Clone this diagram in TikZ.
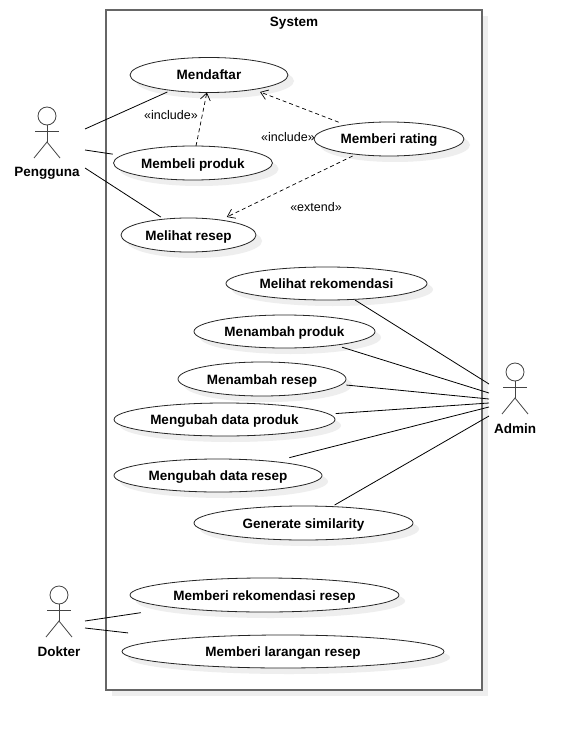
\documentclass[tikz,border=0pt]{standalone}
\usepackage{fontspec}
\setmainfont{Liberation Sans}
\usetikzlibrary{shapes.geometric,shadows,arrows.meta}
\definecolor{shadowgray}{HTML}{EEEEEE}
\definecolor{framegray}{HTML}{666666}
\definecolor{actorgray}{HTML}{444444}
\tikzset{
    softshadow/.style={drop shadow={shadow xshift=6pt,shadow yshift=-6pt,fill=shadowgray,opacity=1}},
    usecase/.style={ellipse,draw=black!85,fill=white,line width=0.8pt,inner sep=0pt,outer sep=0pt,softshadow,text height=10pt,text depth=0pt,font=\fontsize{13.5}{15}\selectfont\bfseries},
    sysframe/.style={rectangle,draw=framegray,fill=white,line width=1.4pt,inner sep=0pt,outer sep=0pt,softshadow},
    actorline/.style={draw=actorgray,line width=0.8pt},
    actorname/.style={font=\fontsize{13.5}{15}\selectfont\bfseries,inner sep=0pt,text height=10pt,text depth=0pt},
    stereotype/.style={font=\fontsize{12.5}{14}\selectfont,inner sep=0pt},
    assoc/.style={draw=black,line width=0.8pt},
    dep/.style={draw=black,line width=0.7pt,dashed,dash pattern=on 4pt off 3pt,-{Straight Barb[length=7pt,width=10pt]}},
}
% #1 name, #2 x, #3 head y, #4 text
\newcommand{\actor}[4]{
    \draw[actorline] (#2,#3) circle (9);
    \draw[actorline] (#2,#3+9) -- (#2,#3+26);
    \draw[actorline] (#2-12,#3+15) -- (#2+12,#3+15);
    \draw[actorline] (#2-13,#3+42) -- (#2,#3+26) -- (#2+13,#3+42);
    \node[actorname] (#1) at (#2,#3+56) {#4};
}
\begin{document}
\begin{tikzpicture}[x=1pt,y=-1pt]
    \useasboundingbox (0,0) rectangle (580,730);
    \fill[white] (0,0) rectangle (580,730);
    \node[sysframe,minimum width=376pt,minimum height=680pt] (system) at (294,350) {};
    \node[actorname] (systemname) at (294,22) {System};

    \node[usecase,minimum width=158pt,minimum height=35pt] (mendaftar) at (209,75) {Mendaftar};
    \node[usecase,minimum width=159pt,minimum height=34pt] (membeli) at (193,163) {Membeli produk};
    \node[usecase,minimum width=135pt,minimum height=34pt] (melihat) at (188.5,235) {Melihat resep};
    \node[usecase,minimum width=150pt,minimum height=34pt] (rating) at (389,139) {Memberi rating};
    \node[usecase,minimum width=201pt,minimum height=33pt] (rekomendasi) at (326.5,283.5) {Melihat rekomendasi};
    \node[usecase,minimum width=181pt,minimum height=33pt] (tambahproduk) at (284.5,331.5) {Menambah produk};
    \node[usecase,minimum width=168pt,minimum height=34pt] (tambahresep) at (262,379) {Menambah resep};
    \node[usecase,minimum width=221pt,minimum height=33pt] (ubahproduk) at (224.5,419.5) {Mengubah data produk};
    \node[usecase,minimum width=208pt,minimum height=33pt] (ubahresep) at (218,475.5) {Mengubah data resep};
    \node[usecase,minimum width=219pt,minimum height=34pt] (similarity) at (303.5,523) {Generate similarity};
    \node[usecase,minimum width=269pt,minimum height=34pt] (beriresep) at (264.5,595) {Memberi rekomendasi resep};
    \node[usecase,minimum width=322pt,minimum height=33pt] (larangan) at (283,651.5) {Memberi larangan resep};

    \actor{pengguna}{47}{116}{Pengguna}
    \actor{admin}{515}{372}{Admin}
    \actor{dokter}{59}{595}{Dokter}

    \coordinate (pengguna1) at (85,129);
    \coordinate (pengguna2) at (85,150);
    \coordinate (pengguna3) at (85,168);
    \coordinate (admin1) at (489,384);
    \coordinate (admin2) at (489,393);
    \coordinate (admin3) at (489,399);
    \coordinate (admin4) at (489,403);
    \coordinate (admin5) at (489,407);
    \coordinate (admin6) at (489,416);
    \coordinate (dokter1) at (85,621);
    \coordinate (dokter2) at (85,628);

    \draw[assoc,shorten >=4pt] (pengguna1) -- (mendaftar.202);
    \draw[assoc,shorten >=9pt] (pengguna2) -- (membeli.174);
    \draw[assoc,shorten >=3.9pt] (pengguna3) -- (melihat.147);
    \draw[assoc,shorten >=1.2pt] (admin1) -- (rekomendasi.-30);
    \draw[assoc,shorten >=7pt] (admin2) -- (tambahproduk.-15.5);
    \draw[assoc,shorten >=5pt] (admin3) -- (tambahresep.-4.7);
    \draw[assoc,shorten >=7pt] (admin4) -- (ubahproduk.3.9);
    \draw[assoc,shorten >=16pt] (admin5) -- (ubahresep.14.5);
    \draw[assoc,shorten >=3.1pt] (admin6) -- (similarity.30.6);
    \draw[assoc,shorten >=34pt] (dokter1) -- (beriresep.188.4);
    \draw[assoc,shorten >=52pt] (dokter2) -- (larangan.173.1);

    \draw[dep] (membeli.80) -- (mendaftar.263);
    \draw[dep,shorten <=8pt,shorten >=7pt] (rating.162) -- (mendaftar.-18);
    \draw[dep,shorten <=4pt,shorten >=6.9pt] (rating.205) -- (melihat.25);

    \node[stereotype] (include1) at (171,115) {«include»};
    \node[stereotype] (include2) at (288,137) {«include»};
    \node[stereotype] (extend1) at (316,207) {«extend»};
\end{tikzpicture}
\end{document}
